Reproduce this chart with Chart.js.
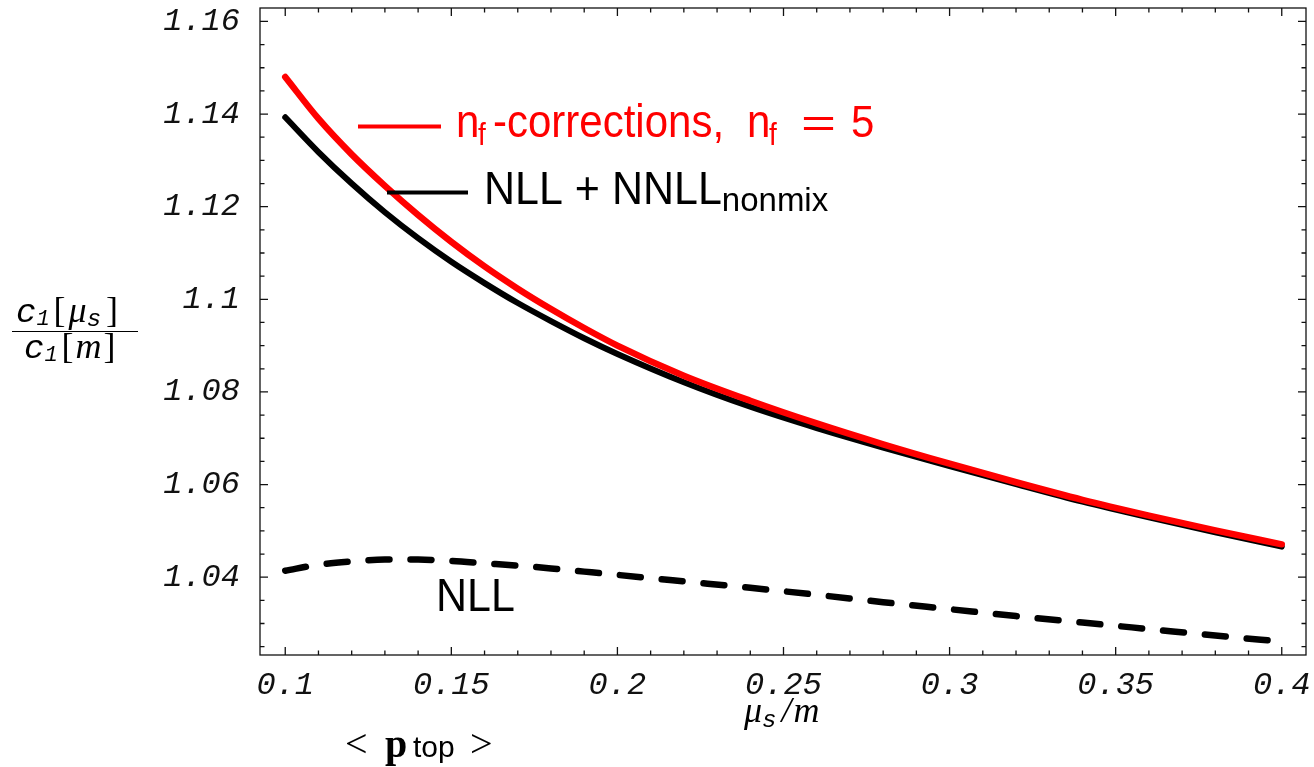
<!DOCTYPE html>
<html>
<head>
<meta charset="utf-8">
<script src="https://cdn.jsdelivr.net/npm/chart.js@4"></script>
<style>
  html, body { margin:0; padding:0; background:#fff; }
  #wrap { width:1314px; height:767px; }
</style>
</head>
<body>
<div id="wrap"><canvas id="c1Chart" width="1314" height="767"></canvas></div>
<script>
// mu_s/m grid and the three curves
const mu = [0.10,0.11,0.12,0.13,0.14,0.15,0.16,0.17,0.18,0.19,0.20,0.22,0.24,0.26,0.28,0.30,0.32,0.34,0.36,0.38,0.40];
const nfCorr = [1.1480,1.1390,1.1313,1.1245,1.1182,1.1124,1.1071,1.1023,1.0979,1.0938,1.0900,1.0835,1.0781,1.0732,1.0687,1.0645,1.0605,1.0567,1.0533,1.0501,1.0471];
const nllNnll = [1.1393,1.1318,1.1250,1.1188,1.1132,1.1081,1.1035,1.0992,1.0953,1.0916,1.0882,1.0821,1.0768,1.0722,1.0680,1.0640,1.0601,1.0563,1.0529,1.0497,1.0466];
const nll = [1.0414,1.0427,1.0434,1.0438,1.0438,1.0435,1.0430,1.0425,1.0419,1.0412,1.0405,1.0391,1.0377,1.0362,1.0346,1.0331,1.0316,1.0302,1.0288,1.0274,1.0261];

// tick labels
const xTicks = [0.1,0.15,0.2,0.25,0.3,0.35,0.4];
const yTicks = [1.04,1.06,1.08,1.1,1.12,1.14,1.16];

const tickFont = {family:'"Liberation Mono", monospace', size:32, style:'italic'};

function pts(ys){ return mu.map((x,i)=>({x, y:ys[i]})); }

// draw a row of text pieces (for sub-scripts); x given per piece or running
function runs(ctx, x, y, parts){
  parts.forEach(p=>{
    if(p.x !== undefined) x = p.x;
    const sx = p.sx || 1, sy = p.sy || 1;
    ctx.font = p.f;
    ctx.fillStyle = p.c || '#000';
    ctx.save();
    ctx.translate(x, y + (p.dy||0));
    ctx.scale(sx, sy);
    ctx.fillText(p.t, 0, 0);
    ctx.restore();
    x += ctx.measureText(p.t).width*sx + (p.sp||0);
  });
  return x;
}

const frame = {
  id:'frame',
  afterDraw(chart){
    const ctx = chart.ctx, a = chart.chartArea;
    const xs = chart.scales.x, ys = chart.scales.y;
    ctx.save();
    ctx.strokeStyle = '#111';
    ctx.lineWidth = 1.3;
    ctx.strokeRect(a.left, a.top, a.right-a.left, a.bottom-a.top);
    ctx.beginPath();
    // x ticks, every 0.01, big at 0.05
    for(let k=10;k<=40;k++){
      const px = xs.getPixelForValue(k/100);
      const len = k%5===0 ? 8 : 4.5;
      ctx.moveTo(px, a.bottom); ctx.lineTo(px, a.bottom-len);
      ctx.moveTo(px, a.top); ctx.lineTo(px, a.top+len);
    }
    // y ticks, every 0.005, big at 0.02
    for(let k=205;k<=232;k++){
      const py = ys.getPixelForValue(k/200);
      const len = k%4===0 ? 8 : 4.5;
      ctx.moveTo(a.left, py); ctx.lineTo(a.left+len, py);
      ctx.moveTo(a.right, py); ctx.lineTo(a.right-len, py);
    }
    ctx.stroke();

    // legend keys
    ctx.lineWidth = 4;
    ctx.strokeStyle = '#ff0000';
    ctx.beginPath(); ctx.moveTo(358,126.5); ctx.lineTo(441,126.5); ctx.stroke();
    ctx.strokeStyle = '#000';
    ctx.beginPath(); ctx.moveTo(387,192.5); ctx.lineTo(468,192.5); ctx.stroke();

    ctx.textBaseline = 'alphabetic';
    ctx.textAlign = 'left';
    const sans = n => n+'px "Liberation Sans", Arial, sans-serif';
    const red = '#ff0000';
    runs(ctx, 0, 137, [
      {x:456, t:'n', f:sans(42), c:red, sy:1.08},
      {x:478, t:'f', f:sans(28), c:red, dy:8, sy:1.1},
      {x:493, t:'-corrections,', f:sans(42), c:red, sy:1.08},
      {x:747, t:'n', f:sans(42), c:red, sy:1.08},
      {x:769, t:'f', f:sans(28), c:red, dy:8, sy:1.1},
      {x:801, t:'=', f:sans(40), c:red, sx:1.5},
      {x:851, t:'5', f:sans(42), c:red, sy:1.06}
    ]);
    runs(ctx, 484, 204, [
      {t:'NLL + NNLL', f:sans(43), sy:1.06},
      {t:'nonmix', f:sans(33), dy:7}
    ]);
    runs(ctx, 436, 611, [{t:'NLL', f:sans(43), sy:1.06}]);

    // y title as a fraction
    const mono = n => 'italic '+n+'px "Liberation Mono", monospace';
    const serif = n => n+'px "Liberation Serif", serif';
    const iserif = n => 'italic '+n+'px "Liberation Serif", serif';
    runs(ctx, 16, 322, [
      {t:'c', f:mono(34)}, {t:'1', f:mono(22), dy:3, sp:4},
      {t:'[', f:serif(36), sp:3}, {t:'\u03bc', f:iserif(36)},
      {t:'s', f:mono(24), dy:4, sp:5}, {t:']', f:serif(36)}
    ]);
    ctx.lineWidth = 1;
    ctx.strokeStyle = '#000';
    ctx.beginPath(); ctx.moveTo(12,331.5); ctx.lineTo(138,331.5); ctx.stroke();
    runs(ctx, 24, 358, [
      {t:'c', f:mono(34)}, {t:'1', f:mono(22), dy:3, sp:4},
      {t:'[', f:serif(36), sp:2}, {t:'m', f:iserif(36), sp:2},
      {t:']', f:serif(36)}
    ]);

    // x title
    runs(ctx, 744, 722, [
      {t:'\u03bc', f:iserif(36)}, {t:'s', f:mono(24), dy:5, sp:5},
      {t:'/', f:iserif(36), sp:2}, {t:'m', f:iserif(36)}
    ]);
    // <p top> under the axis
    runs(ctx, 0, 757, [
      {x:345, t:'<', f:serif(40)},
      {x:385, t:'p', f:'bold '+serif(40)},
      {x:413, t:'top', f:sans(30)},
      {x:470, t:'>', f:serif(40)}
    ]);
    ctx.restore();
  }
};

new Chart(document.getElementById('c1Chart'), {
  type:'line',
  data:{
    datasets:[
      {label:'nf-corrections, nf = 5', data:pts(nfCorr), borderColor:'#ff0000', borderWidth:6.5,
       borderCapStyle:'round', borderJoinStyle:'round', cubicInterpolationMode:'monotone', pointRadius:0},
      {label:'NLL + NNLL nonmix', data:pts(nllNnll), borderColor:'#000', borderWidth:6,
       borderCapStyle:'round', borderJoinStyle:'round', cubicInterpolationMode:'monotone', pointRadius:0},
      {label:'NLL', data:pts(nll), borderColor:'#000', borderWidth:6.5, borderDash:[21,21],
       borderCapStyle:'round', cubicInterpolationMode:'monotone', pointRadius:0}
    ]
  },
  options:{
    responsive:false,
    animation:false,
    devicePixelRatio:1,
    layout:{padding:{top:8, right:8, left:0, bottom:0}},
    plugins:{legend:{display:false}, tooltip:{enabled:false}},
    scales:{
      x:{
        type:'linear', min:0.0924, max:0.4073,
        grid:{display:false, drawTicks:false}, border:{display:false},
        afterBuildTicks: s => { s.ticks = xTicks.map(v=>({value:v})); },
        afterFit: s => { s.height = 112; s.paddingLeft = 0; s.paddingRight = 0; },
        ticks:{font:tickFont, color:'#111', padding:11, maxRotation:0, autoSkip:false,
               callback: v => String(+v.toFixed(2))}
      },
      y:{
        type:'linear', min:1.0232, max:1.1629,
        grid:{display:false, drawTicks:false}, border:{display:false},
        afterBuildTicks: s => { s.ticks = yTicks.map(v=>({value:v})); },
        afterFit: s => { s.width = 260; s.paddingTop = 0; s.paddingBottom = 0; },
        ticks:{font:tickFont, color:'#111', padding:20, autoSkip:false,
               callback: v => String(+v.toFixed(2))}
      }
    }
  },
  plugins:[frame]
});
</script>
</body>
</html>
